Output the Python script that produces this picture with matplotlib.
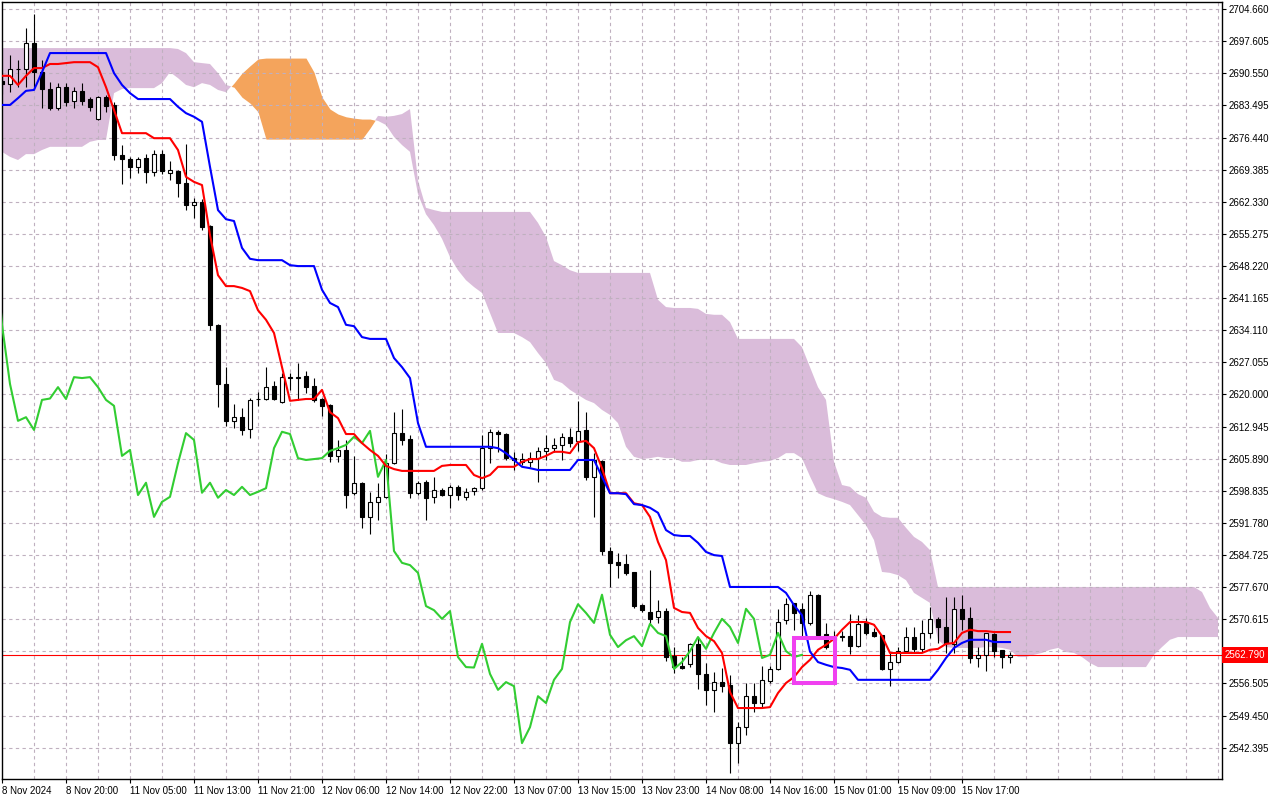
import numpy as np
import matplotlib.pyplot as plt
from matplotlib.patches import Rectangle

plt.rcParams['font.family'] = ['Liberation Sans', 'DejaVu Sans']

# H1 candles, one per bar
OPEN = [
    2688.9, 2688.2, 2691.5, 2691.5, 2697.2, 2690.8, 2687.1, 2682.9, 2687.5, 2684.5,
    2686.7, 2684.9, 2680.5, 2685.3, 2683.6, 2672.6, 2671.7, 2670.0, 2671.9, 2668.9,
    2672.8, 2668.7, 2669.1, 2666.4, 2661.6, 2662.3, 2657.0, 2635.3, 2622.3, 2614.2,
    2615.0, 2612.4, 2619.0, 2619.0, 2621.8, 2618.4, 2623.8, 2623.6, 2624.1, 2621.8,
    2619.0, 2617.7, 2606.5, 2607.8, 2598.4, 2600.6, 2593.1, 2596.4, 2597.5, 2604.9,
    2611.5, 2610.2, 2598.4, 2600.8, 2597.5, 2599.0, 2597.9, 2599.7, 2597.5, 2598.8,
    2599.4, 2608.2, 2611.8, 2611.3, 2606.0, 2605.2, 2605.2, 2606.0, 2607.6, 2608.2,
    2608.9, 2610.7, 2609.8, 2612.2, 2601.9, 2605.4, 2585.6, 2583.2, 2582.7, 2581.0,
    2573.7, 2572.2, 2571.0, 2572.4, 2562.5, 2560.4, 2560.8, 2565.2, 2558.6, 2555.1,
    2556.8, 2556.2, 2543.4, 2546.9, 2553.7, 2552.2, 2557.1, 2559.7, 2570.4, 2574.2,
    2572.9, 2569.8, 2576.0, 2567.4, 2566.7, 2566.7, 2566.9, 2564.7, 2569.8, 2567.8,
    2567.2, 2559.7, 2561.2, 2563.6, 2566.7, 2564.1, 2567.6, 2570.7, 2568.9, 2565.2,
    2572.9, 2570.9, 2562.1, 2562.8, 2567.4, 2563.9, 2562.3,
]
HIGH = [
    2690.0, 2694.6, 2693.5, 2700.5, 2703.6, 2693.5, 2688.6, 2688.4, 2688.4, 2687.5,
    2688.4, 2685.3, 2685.5, 2685.8, 2684.3, 2674.8, 2672.2, 2672.2, 2672.8, 2673.7,
    2673.7, 2671.3, 2669.3, 2675.0, 2663.2, 2663.0, 2657.2, 2635.5, 2626.1, 2617.9,
    2617.0, 2619.2, 2620.6, 2626.0, 2622.9, 2624.7, 2624.7, 2626.9, 2625.2, 2623.6,
    2619.2, 2617.9, 2610.0, 2610.0, 2606.5, 2600.8, 2598.6, 2600.6, 2606.9, 2616.2,
    2616.8, 2611.1, 2601.0, 2601.2, 2601.9, 2599.4, 2600.1, 2600.1, 2599.4, 2599.7,
    2611.1, 2612.4, 2612.2, 2611.5, 2607.4, 2607.2, 2607.4, 2608.5, 2611.1, 2610.4,
    2611.5, 2612.6, 2618.6, 2616.2, 2607.2, 2605.6, 2586.5, 2585.2, 2585.0, 2581.0,
    2573.9, 2581.4, 2574.8, 2573.1, 2564.5, 2562.3, 2565.3, 2566.7, 2561.0, 2559.0,
    2559.9, 2558.4, 2548.0, 2556.6, 2556.6, 2560.3, 2560.3, 2572.9, 2575.3, 2574.2,
    2574.2, 2576.8, 2576.2, 2569.8, 2568.0, 2568.0, 2571.7, 2571.5, 2570.9, 2568.7,
    2567.2, 2563.4, 2564.5, 2568.9, 2568.9, 2570.5, 2573.3, 2571.1, 2575.5, 2575.5,
    2576.0, 2573.3, 2564.5, 2567.6, 2567.6, 2563.9, 2563.4,
]
LOW = [
    2686.0, 2686.4, 2687.5, 2687.5, 2687.5, 2682.9, 2682.5, 2682.5, 2683.4, 2682.9,
    2683.6, 2682.3, 2680.3, 2682.0, 2671.5, 2666.2, 2667.6, 2668.7, 2666.4, 2668.0,
    2668.4, 2667.1, 2663.4, 2660.5, 2658.8, 2656.1, 2634.2, 2617.2, 2613.1, 2612.6,
    2611.1, 2610.4, 2617.5, 2618.8, 2618.8, 2618.1, 2621.0, 2618.8, 2620.3, 2618.4,
    2615.3, 2605.2, 2605.2, 2595.1, 2597.9, 2590.7, 2589.3, 2592.4, 2597.3, 2604.7,
    2608.9, 2597.3, 2597.9, 2592.4, 2596.2, 2597.7, 2595.1, 2596.8, 2596.8, 2597.9,
    2599.0, 2604.9, 2607.4, 2605.6, 2603.4, 2604.5, 2604.1, 2600.8, 2605.6, 2607.4,
    2605.6, 2608.5, 2607.6, 2601.2, 2593.1, 2584.7, 2577.7, 2579.7, 2580.3, 2573.1,
    2572.2, 2569.4, 2569.8, 2561.4, 2558.8, 2559.7, 2560.1, 2555.3, 2551.8, 2550.2,
    2554.6, 2536.8, 2539.0, 2545.2, 2550.2, 2551.1, 2556.6, 2559.5, 2569.6, 2568.3,
    2567.0, 2569.4, 2566.5, 2564.1, 2564.9, 2565.8, 2562.9, 2564.5, 2567.2, 2566.7,
    2559.5, 2556.0, 2561.0, 2563.4, 2563.4, 2563.4, 2566.5, 2565.4, 2563.2, 2563.2,
    2568.3, 2561.0, 2560.1, 2559.2, 2562.3, 2559.9, 2561.0,
]
CLOSE = [
    2688.2, 2691.5, 2691.6, 2697.2, 2690.8, 2687.1, 2682.9, 2687.5, 2684.3, 2686.7,
    2684.5, 2683.2, 2685.3, 2683.4, 2672.6, 2671.7, 2670.0, 2671.7, 2668.9, 2672.8,
    2669.1, 2669.3, 2666.4, 2661.6, 2662.3, 2656.8, 2635.3, 2622.3, 2614.2, 2615.0,
    2612.2, 2618.8, 2619.1, 2621.6, 2619.0, 2623.8, 2623.6, 2623.8, 2621.6, 2618.8,
    2617.5, 2606.5, 2607.8, 2597.9, 2600.6, 2593.1, 2596.4, 2597.5, 2604.9, 2611.5,
    2610.0, 2598.4, 2600.6, 2597.3, 2599.0, 2597.9, 2599.7, 2597.9, 2598.6, 2599.4,
    2608.2, 2611.8, 2611.3, 2606.0, 2605.6, 2605.8, 2606.0, 2607.6, 2608.2, 2608.9,
    2610.7, 2609.3, 2612.0, 2601.9, 2605.6, 2585.6, 2583.0, 2582.5, 2580.8, 2573.5,
    2572.6, 2570.7, 2572.4, 2562.3, 2560.1, 2560.0, 2565.2, 2558.6, 2555.1, 2556.8,
    2555.9, 2543.4, 2546.9, 2553.7, 2552.2, 2557.3, 2559.7, 2570.0, 2573.9, 2572.0,
    2569.8, 2576.0, 2567.2, 2564.5, 2566.0, 2566.9, 2564.7, 2569.6, 2567.6, 2566.9,
    2559.7, 2561.2, 2563.6, 2566.7, 2564.1, 2567.6, 2570.7, 2568.9, 2565.4, 2572.9,
    2570.7, 2562.1, 2562.8, 2567.6, 2563.6, 2562.3, 2562.8,
]

# Ichimoku lines as drawn on the chart
TENKAN = [
    2690.0, 2690.0, 2688.0, 2690.0, 2691.7, 2691.7, 2692.6, 2692.6, 2692.8, 2693.0,
    2693.0, 2693.0, 2691.9, 2687.5, 2682.5, 2677.4, 2677.4, 2677.4, 2677.4, 2676.3,
    2676.3, 2676.3, 2673.7, 2667.8, 2666.7, 2666.0, 2655.0, 2646.2, 2643.8, 2643.8,
    2643.4, 2642.7, 2638.5, 2636.4, 2633.5, 2626.0, 2618.6, 2618.8, 2619.0, 2619.0,
    2621.0, 2616.1, 2614.8, 2611.3, 2611.3, 2609.3, 2607.8, 2606.5, 2604.3, 2603.6,
    2603.2, 2603.2, 2603.2, 2603.2, 2603.2, 2604.3, 2604.5, 2604.5, 2604.5, 2602.3,
    2601.6, 2602.3, 2604.1, 2604.1, 2604.1, 2605.2, 2605.8, 2605.8, 2606.5, 2607.4,
    2607.4, 2607.1, 2609.5, 2609.8, 2608.2, 2603.8, 2598.3, 2598.3, 2598.3, 2596.1,
    2595.7, 2593.1, 2587.6, 2583.6, 2573.1, 2572.2, 2572.0, 2568.7, 2566.9, 2565.8,
    2563.2, 2554.6, 2551.1, 2551.1, 2551.1, 2551.1, 2551.3, 2554.4, 2556.6, 2557.9,
    2560.1, 2561.7, 2563.9, 2565.0, 2566.3, 2568.3, 2570.0, 2570.0, 2570.0, 2569.4,
    2566.9, 2563.2, 2563.2, 2563.2, 2563.2, 2563.2, 2563.9, 2564.1, 2565.2, 2565.4,
    2567.6, 2568.3, 2568.0, 2568.0, 2567.8, 2567.8, 2567.8,
]
KIJUN = [
    2683.6, 2683.6, 2685.1, 2686.7, 2686.9, 2690.8, 2695.0, 2695.0, 2695.0, 2695.0,
    2695.0, 2695.0, 2695.0, 2695.0, 2690.6, 2688.0, 2686.2, 2684.9, 2684.9, 2684.9,
    2684.9, 2684.9, 2683.2, 2681.8, 2681.0, 2679.9, 2670.0, 2660.5, 2658.5, 2658.1,
    2652.2, 2649.8, 2649.5, 2649.5, 2649.5, 2649.5, 2648.4, 2648.2, 2648.2, 2648.2,
    2643.0, 2640.1, 2639.2, 2635.3, 2635.0, 2632.6, 2632.2, 2632.2, 2632.2, 2628.0,
    2626.0, 2623.6, 2613.7, 2608.5, 2608.5, 2608.5, 2608.5, 2608.5, 2608.5, 2608.5,
    2608.5, 2608.5, 2608.2, 2607.1, 2605.6, 2604.1, 2603.8, 2603.4, 2603.4, 2603.4,
    2603.4, 2603.4, 2605.6, 2605.6, 2605.6, 2601.9, 2598.3, 2598.3, 2598.1, 2595.9,
    2595.7, 2595.1, 2594.0, 2590.2, 2589.1, 2588.9, 2588.9, 2587.4, 2585.4, 2584.7,
    2584.5, 2577.7, 2577.7, 2577.7, 2577.7, 2577.7, 2577.7, 2577.7, 2576.4, 2573.7,
    2571.5, 2563.5, 2561.2, 2560.6, 2560.1, 2559.9, 2559.5, 2557.3, 2557.3, 2557.3,
    2557.3, 2557.3, 2557.3, 2557.3, 2557.3, 2557.3, 2557.3, 2559.5, 2562.1, 2564.3,
    2565.4, 2566.1, 2566.1, 2566.1, 2565.6, 2565.6, 2565.6,
]
# cloud edges, already placed 26 bars ahead (bars 0..152)
SPAN_A = [
    2673.3, 2672.2, 2671.5, 2672.8, 2672.8, 2673.7, 2674.4, 2674.4, 2674.4, 2674.4,
    2674.4, 2675.5, 2675.9, 2675.9, 2686.2, 2687.1, 2687.3, 2687.3, 2687.3, 2687.3,
    2688.4, 2690.8, 2689.5, 2688.0, 2687.5, 2688.4, 2688.0, 2686.9, 2686.4, 2688.4,
    2690.6, 2692.2, 2693.7, 2693.9, 2693.9, 2693.9, 2693.9, 2693.9, 2693.9, 2690.8,
    2685.3, 2682.7, 2681.6, 2681.0, 2680.7, 2680.5, 2680.5, 2680.1, 2679.2, 2676.6,
    2674.8, 2673.3, 2664.0, 2659.6, 2657.2, 2654.2, 2650.2, 2647.3, 2645.1, 2643.6,
    2642.3, 2637.9, 2633.5, 2633.5, 2633.5, 2632.6, 2631.5, 2629.1, 2626.9, 2623.2,
    2622.5, 2621.0, 2619.9, 2618.8, 2618.1, 2616.6, 2615.5, 2613.7, 2608.5, 2606.3,
    2605.8, 2606.0, 2606.3, 2606.0, 2606.0, 2605.2, 2605.2, 2605.6, 2605.6, 2605.6,
    2604.9, 2604.5, 2604.5, 2604.5, 2604.9, 2605.2, 2605.4, 2606.0, 2607.1, 2607.1,
    2606.0, 2602.0, 2598.3, 2597.5, 2597.0, 2596.4, 2595.7, 2593.5, 2591.3, 2588.0,
    2581.0, 2580.8, 2580.3, 2579.2, 2576.4, 2575.3, 2574.2, 2566.1, 2564.5, 2564.3,
    2564.3, 2564.3, 2564.3, 2564.5, 2564.5, 2564.3, 2563.9, 2562.3, 2562.3, 2562.8,
    2563.2, 2563.9, 2564.3, 2563.4, 2563.2, 2562.3, 2561.0, 2560.1, 2560.1, 2560.1,
    2560.1, 2560.1, 2560.1, 2560.1, 2562.8, 2564.5, 2566.1, 2566.7, 2566.7, 2566.7,
    2566.7, 2566.7, 2566.7,
]
SPAN_B = [
    2696.1, 2696.1, 2696.1, 2696.1, 2696.1, 2696.1, 2696.1, 2696.1, 2696.1, 2696.1,
    2696.1, 2696.1, 2696.1, 2696.1, 2696.1, 2696.1, 2696.1, 2696.1, 2696.1, 2696.1,
    2696.1, 2696.1, 2695.9, 2695.0, 2693.0, 2692.8, 2692.6, 2690.6, 2688.0, 2687.5,
    2685.3, 2684.0, 2682.1, 2676.1, 2676.1, 2676.1, 2676.1, 2676.1, 2676.1, 2676.1,
    2676.1, 2676.1, 2676.1, 2676.1, 2676.1, 2676.1, 2678.5, 2681.2, 2681.0, 2681.2,
    2681.6, 2682.7, 2667.0, 2661.0, 2660.5, 2660.1, 2660.1, 2660.1, 2660.1, 2660.1,
    2660.1, 2660.1, 2660.1, 2660.1, 2660.1, 2660.1, 2660.1, 2657.7, 2654.6, 2649.3,
    2648.4, 2647.3, 2646.7, 2646.7, 2646.7, 2646.7, 2646.7, 2646.7, 2646.7, 2646.7,
    2646.7, 2646.7, 2640.8, 2639.2, 2639.0, 2639.0, 2639.0, 2638.8, 2637.7, 2637.5,
    2637.5, 2635.9, 2632.2, 2632.2, 2632.2, 2632.2, 2632.2, 2632.2, 2632.2, 2632.2,
    2630.4, 2626.0, 2621.6, 2618.8, 2605.2, 2600.1, 2599.7, 2598.1, 2597.3, 2594.2,
    2593.1, 2592.9, 2592.9, 2590.7, 2588.7, 2587.6, 2585.8, 2577.7, 2577.7, 2577.7,
    2577.7, 2577.7, 2577.7, 2577.7, 2577.7, 2577.7, 2577.7, 2577.7, 2577.7, 2577.7,
    2577.7, 2577.7, 2577.7, 2577.7, 2577.7, 2577.7, 2577.7, 2577.7, 2577.7, 2577.7,
    2577.7, 2577.7, 2577.7, 2577.7, 2577.7, 2577.7, 2577.7, 2577.7, 2577.7, 2577.7,
    2576.6, 2573.1, 2570.9,
]
CHIKOU_SHIFT = 26
LAST_PRICE = 2562.79

# highlighted box (bars / prices)
BOX_BARS = (99.0, 104.1)
BOX_PRICES = (2556.6, 2566.5)

PRICE_TICKS = [
    2542.395, 2549.450, 2556.505, 2563.560, 2570.615, 2577.670, 2584.725, 2591.780,
    2598.835, 2605.890, 2612.945, 2620.000, 2627.055, 2634.110, 2641.165, 2648.220,
    2655.275, 2662.330, 2669.385, 2676.440, 2683.495, 2690.550, 2697.605, 2704.660,
]
TIME_TICKS = [0, 8, 16, 24, 32, 40, 48, 56, 64, 72, 80, 88, 96, 104, 112, 120]
TIME_LABELS = [
    "8 Nov 2024", "8 Nov 20:00", "11 Nov 05:00", "11 Nov 13:00", "11 Nov 21:00",
    "12 Nov 06:00", "12 Nov 14:00", "12 Nov 22:00", "13 Nov 07:00", "13 Nov 15:00",
    "13 Nov 23:00", "14 Nov 08:00", "14 Nov 16:00", "15 Nov 01:00", "15 Nov 09:00",
    "15 Nov 17:00",
]

GRID = '#bfb0bf'
CLOUD_DOWN = '#dabcda'
CLOUD_UP = '#f4a45c'

fig = plt.figure(figsize=(12.8, 8), dpi=100)
ax = fig.add_axes([2 / 1280, 21 / 800, 1220 / 1280, 777 / 800])

o = np.array(OPEN)
h = np.array(HIGH)
l = np.array(LOW)
c = np.array(CLOSE)
x = np.arange(len(c))

# cloud
a = np.array(SPAN_A)
b = np.array(SPAN_B)
xc = np.arange(len(a))
ax.fill_between(xc, a, b, where=a <= b, interpolate=True, color=CLOUD_DOWN, lw=0, zorder=1)
ax.fill_between(xc, a, b, where=a > b, interpolate=True, color=CLOUD_UP, lw=0, zorder=1)

# dashed grid
for p in PRICE_TICKS:
    ax.axhline(p, color=GRID, lw=0.8, ls=(0, (3, 3)), zorder=1.5)
for gx in np.arange(4, 153, 4):
    ax.axvline(gx, color=GRID, lw=0.8, ls=(0, (3, 3)), zorder=1.5)

ax.axhline(LAST_PRICE, color='red', lw=0.8, zorder=2.5)

# candles
up = c >= o
ax.vlines(x, l, h, color='black', lw=0.8, zorder=3)
ax.bar(x[up], (c - o)[up], bottom=o[up], width=0.55, facecolor='white',
       edgecolor='black', linewidth=0.8, zorder=4)
ax.bar(x[~up], (c - o)[~up], bottom=o[~up], width=0.55, facecolor='black',
       edgecolor='black', linewidth=0.8, zorder=4)

ax.plot(x - CHIKOU_SHIFT, c, color='#32cd32', lw=1.5, zorder=5)
ax.plot(x, TENKAN, color='#ff0000', lw=1.5, zorder=5)
ax.plot(x, KIJUN, color='#0000ff', lw=1.5, zorder=6)

ax.add_patch(Rectangle((BOX_BARS[0], BOX_PRICES[0]), BOX_BARS[1] - BOX_BARS[0],
                       BOX_PRICES[1] - BOX_PRICES[0], fill=False,
                       edgecolor='#f040f0', lw=2.9, zorder=7))

ax.set_xlim(0, 152.5)
ax.set_ylim(2535.51, 2706.22)

# the last-price tag hides the tick label right under it
ax.yaxis.tick_right()
ax.set_yticks(PRICE_TICKS)
ax.set_yticklabels(["" if abs(p - LAST_PRICE) < 2 else f"{p:.3f}" for p in PRICE_TICKS])
ax.tick_params(axis='y', direction='out', length=3, width=0.8, pad=2, labelsize=7)

ax.set_xticks(TIME_TICKS)
ax.set_xticklabels(TIME_LABELS)
ax.tick_params(axis='x', direction='out', length=3, width=0.8, pad=2, labelsize=7)
for lbl in ax.get_xticklabels():
    lbl.set_ha('left')

for s in ax.spines.values():
    s.set_color('black')
    s.set_linewidth(1)

ax.annotate(f"{LAST_PRICE:.3f}", xy=(1, LAST_PRICE), xycoords=('axes fraction', 'data'),
            xytext=(3, 0), textcoords='offset pixels', ha='left', va='center',
            color='white', fontsize=7, annotation_clip=False, zorder=10,
            bbox=dict(boxstyle='square,pad=0.3', fc='red', ec='none'))

fig.savefig('out.png', dpi=100)
